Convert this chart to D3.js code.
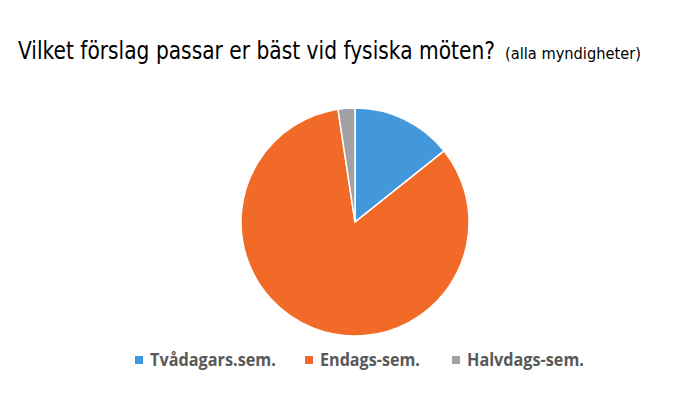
<!DOCTYPE html>
<html><head><meta charset="utf-8">
<script src="https://cdn.jsdelivr.net/npm/d3@7"></script>
<style>body{margin:0;background:#fff}svg{display:block}</style>
</head><body>
<svg id="c" width="688" height="409"></svg>
<script>
const categories = ["Tvådagars.sem.", "Endags-sem.", "Halvdags-sem."];
const values = [6, 35, 1];
const colors = ["#4398DB", "#F26A28", "#A0A0A5"];
const titleMain = "Vilket förslag passar er bäst vid fysiska möten?";
const titleSub = "(alla myndigheter)";

const svg = d3.select("#c");
const cx = 355, cy = 222, r = 114;

const pie = d3.pie().sort(null).value(d => d)(values);
const arc = d3.arc().innerRadius(0).outerRadius(r);
svg.append("g").attr("transform", `translate(${cx},${cy})`)
  .selectAll("path").data(pie).join("path")
  .attr("d", arc)
  .attr("fill", (d, i) => colors[i])
  .attr("stroke", "#fff").attr("stroke-width", 1.5);

// helper: draw text and squeeze horizontally to a target width
function fitText(x, y, str, size, width, family, weight, fill) {
  const el = svg.append("text").attr("x", 0).attr("y", 0)
    .attr("font-family", family).attr("font-weight", weight)
    .attr("font-size", size).attr("fill", fill).text(str);
  const w = el.node().getComputedTextLength();
  el.attr("transform", `translate(${x},${y}) scale(${width / w},1)`);
  return el;
}

const ff = "'Liberation Sans Narrow','DejaVu Sans Condensed',sans-serif";
fitText(18, 59, titleMain, 24, 477, ff, "normal", "#000");
fitText(505, 59, titleSub, 16, 136, ff, "normal", "#000");

const legX = [135, 305, 452];
const legW = [126, 100, 117];
categories.forEach((c, i) => {
  svg.append("rect").attr("x", legX[i]).attr("y", 356).attr("width", 8).attr("height", 8).attr("fill", colors[i]);
  fitText(legX[i] + 15, 366, c, 17, legW[i], "'Open Sans','DejaVu Sans',sans-serif", "bold", "#595959");
});
</script>
</body></html>
